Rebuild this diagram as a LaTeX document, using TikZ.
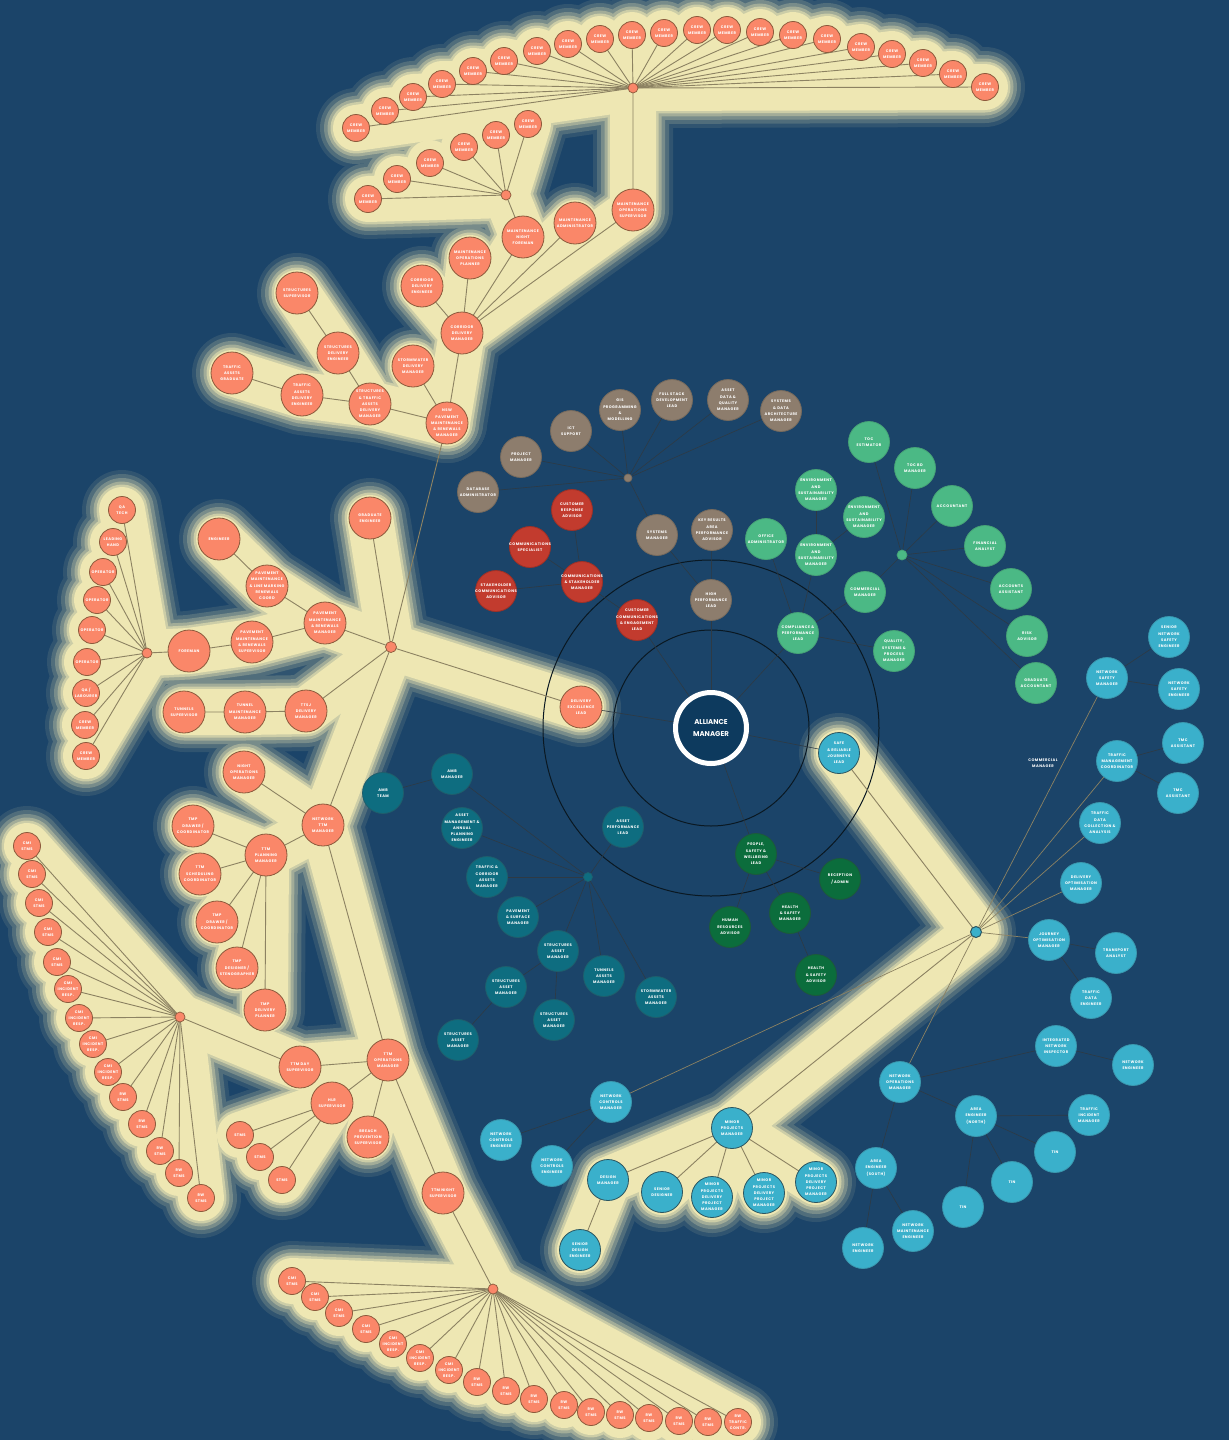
\documentclass[tikz,border=0pt]{standalone}
\usepackage{fontspec}
\usepackage{tikz}
\newfontfamily\lblfont[LetterSpace=12]{Poppins}
\newfontfamily\headfont{Poppins}
\newcommand\lbl{\lblfont\bfseries\fontsize{3.7}{6.3}\selectfont}
\definecolor{Sea}{HTML}{1B4469}
\definecolor{Cream}{HTML}{EEE7B3}
\definecolor{Coral}{HTML}{FA8769}
\definecolor{CoralRim}{HTML}{8C5A3C}
\definecolor{Taupe}{HTML}{8D7D6D}
\definecolor{TaupeRim}{HTML}{766A5D}
\definecolor{Brick}{HTML}{C23B2E}
\definecolor{BrickRim}{HTML}{9E3026}
\definecolor{Mint}{HTML}{4BB985}
\definecolor{MintRim}{HTML}{46A276}
\definecolor{Forest}{HTML}{0B6D3C}
\definecolor{ForestRim}{HTML}{1C5A3A}
\definecolor{Teal}{HTML}{0E6D80}
\definecolor{TealRim}{HTML}{1F5E6C}
\definecolor{Sky}{HTML}{3AB0CB}
\definecolor{SkyRim}{HTML}{3A98AE}
\definecolor{DeepRim}{HTML}{2B5560}
\definecolor{Navy}{HTML}{0D3A5E}
\definecolor{Olive}{HTML}{8C8262}
\definecolor{Wire}{HTML}{2E3A44}
\definecolor{Ring}{HTML}{0A1822}
\colorlet{GlowA}{Cream!10!Sea}
\colorlet{GlowB}{Cream!25!Sea}
\colorlet{GlowC}{Cream!44!Sea}
\colorlet{GlowD}{Cream!64!Sea}
\colorlet{GlowE}{Cream!84!Sea}
\pgfdeclarelayer{glow}
\pgfdeclarelayer{wires}
\pgfsetlayers{glow,wires,main}
\newcommand\treelinks[1]{%
  \draw[#1] (del.center) -- (h3.center) -- (ge.center);
  \draw[#1] (h3.center) -- (pmrm.center) -- (pmlm.center) -- (eng.center);
  \draw[#1] (pmrm.center) -- (pmrs.center) -- (fore.center) -- (h4.center);
  \draw[#1] (h3.center) -- (ttsj.center) -- (tmm.center) -- (tsup.center);
  \draw[#1] (h3.center) -- (nttm.center) -- (nom.center);
  \draw[#1] (nttm.center) -- (tpm.center);
  \draw[#1] (nttm.center) -- (tom.center) -- (tds.center) -- (h5.center);
  \draw[#1] (tom.center) -- (hlr.center);
  \draw[#1] (tom.center) -- (bps.center);
  \draw[#1] (tom.center) -- (tns.center) -- (h6.center);
  \draw[#1] (nsw.center) -- (cdm.center) -- (cde.center);
  \draw[#1] (nsw.center) -- (swdm.center);
  \draw[#1] (nsw.center) -- (stadm.center) -- (sde.center) -- (ssup.center);
  \draw[#1] (stadm.center) -- (tade.center) -- (tag.center);
  \draw[#1] (cdm.center) -- (mop.center);
  \draw[#1] (cdm.center) -- (mnf.center) -- (h2.center);
  \draw[#1] (cdm.center) -- (madm.center);
  \draw[#1] (cdm.center) -- (mos.center) -- (h1.center);
  \foreach \i in {1,...,21} \draw[#1] (h1.center) -- (tc\i.center);
  \foreach \i in {1,...,6} \draw[#1] (h2.center) -- (nc\i.center);
  \foreach \i in {1,...,9} \draw[#1] (h4.center) -- (lh\i.center);
  \foreach \i in {1,...,5} \draw[#1] (tpm.center) -- (tp\i.center);
  \foreach \i in {1,...,14} \draw[#1] (h5.center) -- (cs\i.center);
  \foreach \i in {1,...,3} \draw[#1] (hlr.center) -- (st\i.center);
  \foreach \i in {1,...,17} \draw[#1] (h6.center) -- (bs\i.center);
  \draw[#1] (srjl.center) -- (h10.center) -- (mpm.center);
  \foreach \n in {dm,sd,mp1,mp2,mp3} \draw[#1] (mpm.center) -- (\n.center);
  \draw[#1] (dm.center) -- (sde2.center);
}

\begin{document}
\begin{tikzpicture}[x=1pt,y=-1pt,
  txt/.style={text=white,align=center,font=\lbl,inner sep=0pt},
  unit/.style={circle,inner sep=0pt,minimum size=41pt,line width=0.8pt,label={[txt]center:#1}},
  coralnode/.style={unit={#1},fill=Coral,draw=CoralRim,minimum size=42pt},
  coralsmall/.style={coralnode={#1},minimum size=27pt},
  taupenode/.style={unit={#1},fill=Taupe,draw=TaupeRim},
  bricknode/.style={unit={#1},fill=Brick,draw=BrickRim},
  mintnode/.style={unit={#1},fill=Mint,draw=MintRim},
  forestnode/.style={unit={#1},fill=Forest,draw=ForestRim},
  tealnode/.style={unit={#1},fill=Teal,draw=TealRim},
  skynode/.style={unit={#1},fill=Sky,draw=SkyRim},
  hub/.style={circle,inner sep=0pt,minimum size=10pt,line width=0.7pt},
  wire/.style={draw=Olive,line width=0.9pt},
  link/.style={draw=Wire,line width=0.6pt},
  ring/.style={draw=Ring,line width=1pt}
]
\useasboundingbox (0,0) rectangle (1229,1440);

\node[circle,fill=Navy,draw=white,line width=5pt,minimum size=71pt,text=white,align=center,
  font=\headfont\bfseries\fontsize{7}{12}\selectfont] (am) at (711,728) {ALLIANCE\\MANAGER};

\node[hub,fill=Coral,draw=CoralRim] (h1) at (633,88) {};
\node[hub,fill=Coral,draw=CoralRim] (h2) at (506,195) {};
\node[hub,fill=Coral,draw=CoralRim,minimum size=11pt] (h3) at (391,647) {};
\node[hub,fill=Coral,draw=CoralRim] (h4) at (147,653) {};
\node[hub,fill=Coral,draw=CoralRim] (h5) at (180,1017) {};
\node[hub,fill=Coral,draw=CoralRim] (h6) at (493,1289) {};
\node[hub,fill=Taupe,draw=TaupeRim,minimum size=8pt] (h7) at (628,478) {};
\node[hub,fill=Mint,draw=MintRim] (h8) at (902,555) {};
\node[hub,fill=Teal,draw=TealRim,minimum size=9pt] (h9) at (588,877) {};
\node[hub,fill=Sky,draw=DeepRim,line width=1pt,minimum size=11pt] (h10) at (976,932) {};

\foreach \x/\y [count=\i] in {356/128,385/111,413/97,442/84,473/71,504/61,537/51,568/44,600/39,632/35,664/33,697/30,727/30,760/32,793/35,827/39,861/47,892/54,923/63,953/74,985/87}
  \node[coralsmall={CREW\\MEMBER}] (tc\i) at (\x,\y) {};
\foreach \x/\y [count=\i] in {528/124,496/135,464/147,430/163,397/179,368/199}
  \node[coralsmall={CREW\\MEMBER}] (nc\i) at (\x,\y) {};

\node[coralnode={MAINTENANCE\\OPERATIONS\\SUPERVISOR}] (mos) at (633,210) {};
\node[coralnode={MAINTENANCE\\ADMINISTRATOR}] (madm) at (575,223) {};
\node[coralnode={MAINTENANCE\\NIGHT\\FOREMAN}] (mnf) at (523,237) {};
\node[coralnode={MAINTENANCE\\OPERATIONS\\PLANNER}] (mop) at (470,258) {};
\node[coralnode={CORRIDOR\\DELIVERY\\ENGINEER}] (cde) at (422,286) {};
\node[coralnode={CORRIDOR\\DELIVERY\\MANAGER}] (cdm) at (462,333) {};
\node[coralnode={STORMWATER\\DELIVERY\\MANAGER}] (swdm) at (413,366) {};
\node[coralnode={STRUCTURES\\SUPERVISOR}] (ssup) at (297,293) {};
\node[coralnode={STRUCTURES\\DELIVERY\\ENGINEER}] (sde) at (338,353) {};
\node[coralnode={TRAFFIC\\ASSETS\\GRADUATE}] (tag) at (232,373) {};
\node[coralnode={TRAFFIC\\ASSETS\\DELIVERY\\ENGINEER}] (tade) at (302,395) {};
\node[coralnode={STRUCTURES\\\& TRAFFIC\\ASSETS\\DELIVERY\\MANAGER}] (stadm) at (370,404) {};
\node[coralnode={NSW\\PAVEMENT\\MAINTENANCE\\\& RENEWALS\\MANAGER}] (nsw) at (447,423) {};

\node[coralnode={GRADUATE\\ENGINEER}] (ge) at (370,518) {};
\node[coralnode={ENGINEER}] (eng) at (219,539) {};
\node[coralnode={PAVEMENT\\MAINTENANCE\\\& LINE MARKING\\RENEWALS\\COORD}] (pmlm) at (267,586) {};
\node[coralnode={PAVEMENT\\MAINTENANCE\\\& RENEWALS\\MANAGER}] (pmrm) at (325,623) {};
\node[coralnode={PAVEMENT\\MAINTENANCE\\\& RENEWALS\\SUPERVISOR}] (pmrs) at (252,642) {};
\node[coralnode={FOREMAN}] (fore) at (189,651) {};
\node[coralsmall={QA\\TECH}] (lh1) at (122,510) {};
\node[coralsmall={LEADING\\HAND}] (lh2) at (113,542) {};
\foreach \x/\y [count=\i from 3] in {103/572,97/600,92/630,87/662}
  \node[coralsmall={OPERATOR}] (lh\i) at (\x,\y) {};
\node[coralsmall={QA /\\LABOURER}] (lh7) at (86,693) {};
\node[coralsmall={CREW\\MEMBER}] (lh8) at (85,725) {};
\node[coralsmall={CREW\\MEMBER}] (lh9) at (86,756) {};
\node[coralnode={TUNNELS\\SUPERVISOR}] (tsup) at (184,712) {};
\node[coralnode={TUNNEL\\MAINTENANCE\\MANAGER}] (tmm) at (245,712) {};
\node[coralnode={TTSJ\\DELIVERY\\MANAGER}] (ttsj) at (306,711) {};
\node[coralnode={DELIVERY\\EXCELLENCE\\LEAD}] (del) at (581,707) {};

\node[coralnode={NIGHT\\OPERATIONS\\MANAGER}] (nom) at (244,772) {};
\node[coralnode={NETWORK\\TTM\\MANAGER}] (nttm) at (323,825) {};
\node[coralnode={TTM\\PLANNING\\MANAGER}] (tpm) at (266,855) {};
\node[coralnode={TMP\\DRAWER /\\COORDINATOR}] (tp1) at (193,826) {};
\node[coralnode={TTM\\SCHEDULING\\COORDINATOR}] (tp2) at (200,874) {};
\node[coralnode={TMP\\DRAWER /\\COORDINATOR}] (tp3) at (217,922) {};
\node[coralnode={TMP\\DESIGNER /\\STENOGRAPHER}] (tp4) at (237,968) {};
\node[coralnode={TMP\\DELIVERY\\PLANNER}] (tp5) at (265,1010) {};
\node[coralnode={TTM\\OPERATIONS\\MANAGER}] (tom) at (388,1060) {};
\node[coralnode={TTM DAY\\SUPERVISOR}] (tds) at (300,1067) {};
\node[coralnode={HLR\\SUPERVISOR}] (hlr) at (332,1103) {};
\node[coralnode={BREACH\\PREVENTION\\SUPERVISOR}] (bps) at (368,1137) {};
\node[coralnode={TTM NIGHT\\SUPERVISOR}] (tns) at (443,1193) {};
\foreach \x/\y [count=\i] in {240/1135,260/1157,282/1180}
  \node[coralsmall={STMS}] (st\i) at (\x,\y) {};

\foreach \x/\y [count=\i] in {27/846,32/874,39/903,48/932,57/962}
  \node[coralsmall={CMI\\STMS}] (cs\i) at (\x,\y) {};
\foreach \x/\y [count=\i from 6] in {68/989,79/1018,93/1044,108/1072}
  \node[coralsmall={CMI\\INCIDENT\\RESP.}] (cs\i) at (\x,\y) {};
\foreach \x/\y [count=\i from 10] in {123/1097,142/1124,160/1151,179/1173,201/1198}
  \node[coralsmall={RW\\STMS}] (cs\i) at (\x,\y) {};

\foreach \x/\y [count=\i] in {292/1281,315/1297,339/1313,366/1329}
  \node[coralsmall={CMI\\STMS}] (bs\i) at (\x,\y) {};
\foreach \x/\y [count=\i from 5] in {393/1344,420/1358,449/1370}
  \node[coralsmall={CMI\\INCIDENT\\RESP.}] (bs\i) at (\x,\y) {};
\foreach \x/\y [count=\i from 8] in {477/1382,506/1391,534/1399,564/1405,591/1412,620/1415,649/1418,679/1421,708/1422}
  \node[coralsmall={RW\\STMS}] (bs\i) at (\x,\y) {};
\node[coralsmall={RW\\TRAFFIC\\CONTR.}] (bs17) at (738,1422) {};

\node[taupenode={DATABASE\\ADMINISTRATOR}] (dba) at (478,492) {};
\node[taupenode={PROJECT\\MANAGER}] (pm) at (521,457) {};
\node[taupenode={ICT\\SUPPORT}] (ict) at (571,431) {};
\node[taupenode={GIS\\PROGRAMMING\\\&\\MODELLING}] (gis) at (620,410) {};
\node[taupenode={FULL STACK\\DEVELOPMENT\\LEAD}] (fsd) at (672,400) {};
\node[taupenode={ASSET\\DATA \&\\QUALITY\\MANAGER}] (adq) at (728,400) {};
\node[taupenode={SYSTEMS\\\& DATA\\ARCHITECTURE\\MANAGER}] (sda) at (781,411) {};
\node[taupenode={SYSTEMS\\MANAGER}] (sm) at (657,535) {};
\node[taupenode={KEY RESULTS\\AREA\\PERFORMANCE\\ADVISOR}] (kra) at (712,530) {};
\node[taupenode={HIGH\\PERFORMANCE\\LEAD}] (hpl) at (711,600) {};

\node[bricknode={CUSTOMER\\RESPONSE\\ADVISOR}] (cra) at (572,510) {};
\node[bricknode={COMMUNICATIONS\\SPECIALIST}] (csp) at (530,547) {};
\node[bricknode={COMMUNICATIONS\\\& STAKEHOLDER\\MANAGER}] (csm) at (582,582) {};
\node[bricknode={STAKEHOLDER\\COMMUNICATIONS\\ADVISOR}] (sca) at (496,591) {};
\node[bricknode={CUSTOMER\\COMMUNICATIONS\\\& ENGAGEMENT\\LEAD}] (ccel) at (637,620) {};

\node[mintnode={TOC\\ESTIMATOR}] (toce) at (869,442) {};
\node[mintnode={TOC BD\\MANAGER}] (tocbd) at (915,468) {};
\node[mintnode={ACCOUNTANT}] (acc) at (952,506) {};
\node[mintnode={FINANCIAL\\ANALYST}] (fa) at (985,546) {};
\node[mintnode={ACCOUNTS\\ASSISTANT}] (aa) at (1011,589) {};
\node[mintnode={RISK\\ADVISOR}] (ra) at (1027,636) {};
\node[mintnode={GRADUATE\\ACCOUNTANT}] (ga) at (1036,683) {};
\node[mintnode={COMMERCIAL\\MANAGER}] (cm) at (865,592) {};
\node[mintnode={ENVIRONMENT\\AND\\SUSTAINABILITY\\MANAGER}] (esm1) at (816,490) {};
\node[mintnode={ENVIRONMENT\\AND\\SUSTAINABILITY\\MANAGER}] (esm2) at (864,517) {};
\node[mintnode={ENVIRONMENT\\AND\\SUSTAINABILITY\\MANAGER}] (esm3) at (816,555) {};
\node[mintnode={OFFICE\\ADMINISTRATOR}] (oa) at (766,539) {};
\node[mintnode={COMPLIANCE \&\\PERFORMANCE\\LEAD}] (cpl) at (798,633) {};
\node[mintnode={QUALITY,\\SYSTEMS \&\\PROCESS\\MANAGER}] (qsp) at (894,651) {};

\node[forestnode={PEOPLE,\\SAFETY \&\\WELLBEING\\LEAD}] (pswl) at (756,854) {};
\node[forestnode={HUMAN\\RESOURCES\\ADVISOR}] (hra) at (730,927) {};
\node[forestnode={HEALTH\\\& SAFETY\\MANAGER}] (hsm) at (790,913) {};
\node[forestnode={HEALTH\\\& SAFETY\\ADVISOR}] (hsa) at (816,975) {};
\node[forestnode={RECEPTION\\/ ADMIN}] (rec) at (840,879) {};

\node[tealnode={AMB\\MANAGER}] (amb) at (452,774) {};
\node[tealnode={AMB\\TEAM}] (ambt) at (383,793) {};
\node[tealnode={ASSET\\MANAGEMENT \&\\ANNUAL\\PLANNING\\ENGINEER}] (amap) at (462,828) {};
\node[tealnode={TRAFFIC \&\\CORRIDOR\\ASSETS\\MANAGER}] (tca) at (487,877) {};
\node[tealnode={PAVEMENT\\\& SURFACE\\MANAGER}] (psm) at (518,917) {};
\foreach \x/\y [count=\i] in {558/951,506/987,554/1020,458/1040}
  \node[tealnode={STRUCTURES\\ASSET\\MANAGER}] (sam\i) at (\x,\y) {};
\node[tealnode={TUNNELS\\ASSETS\\MANAGER}] (tam) at (604,976) {};
\node[tealnode={STORMWATER\\ASSETS\\MANAGER}] (swam) at (656,997) {};
\node[tealnode={ASSET\\PERFORMANCE\\LEAD}] (apl) at (623,827) {};

\node[skynode={SAFE\\\& RELIABLE\\JOURNEYS\\LEAD},draw=DeepRim] (srjl) at (839,753) {};
\node[skynode={NETWORK\\SAFETY\\MANAGER}] (nsm) at (1107,678) {};
\node[skynode={SENIOR\\NETWORK\\SAFETY\\ENGINEER}] (snse) at (1169,637) {};
\node[skynode={NETWORK\\SAFETY\\ENGINEER}] (nse) at (1179,689) {};
\node[skynode={TRAFFIC\\MANAGEMENT\\COORDINATOR}] (tmc) at (1117,761) {};
\node[skynode={TMC\\ASSISTANT}] (tmca) at (1183,743) {};
\node[skynode={TMC\\ASSISTANT}] (tmcb) at (1178,793) {};
\node[skynode={TRAFFIC\\DATA\\COLLECTION \&\\ANALYSIS}] (tdca) at (1100,823) {};
\node[skynode={DELIVERY\\OPTIMISATION\\MANAGER}] (dom) at (1081,883) {};
\node[skynode={JOURNEY\\OPTIMISATION\\MANAGER}] (jom) at (1049,940) {};
\node[skynode={TRANSPORT\\ANALYST}] (ta) at (1116,953) {};
\node[skynode={TRAFFIC\\DATA\\ENGINEER}] (tde) at (1091,998) {};
\node[skynode={NETWORK\\OPERATIONS\\MANAGER}] (netom) at (900,1082) {};
\node[skynode={INTEGRATED\\NETWORK\\INSPECTOR}] (ini) at (1056,1046) {};
\node[skynode={NETWORK\\ENGINEER}] (ne1) at (1133,1065) {};
\node[skynode={AREA\\ENGINEER\\(NORTH)}] (aen) at (976,1116) {};
\node[skynode={AREA\\ENGINEER\\(SOUTH)}] (aes) at (876,1168) {};
\node[skynode={TRAFFIC\\INCIDENT\\MANAGER}] (tim) at (1089,1115) {};
\foreach \x/\y [count=\i] in {1055/1152,1012/1182,963/1207}
  \node[skynode={TIN}] (tin\i) at (\x,\y) {};
\node[skynode={NETWORK\\ENGINEER}] (ne2) at (863,1248) {};
\node[skynode={NETWORK\\MAINTENANCE\\ENGINEER}] (nme) at (913,1231) {};
\node[skynode={NETWORK\\CONTROLS\\MANAGER}] (ncm) at (611,1102) {};
\node[skynode={NETWORK\\CONTROLS\\ENGINEER}] (nce1) at (501,1140) {};
\node[skynode={NETWORK\\CONTROLS\\ENGINEER}] (nce2) at (552,1166) {};
\node[skynode={MINOR\\PROJECTS\\MANAGER},draw=DeepRim] (mpm) at (732,1128) {};
\node[skynode={DESIGN\\MANAGER},draw=DeepRim] (dm) at (608,1180) {};
\node[skynode={SENIOR\\DESIGNER},draw=DeepRim] (sd) at (662,1192) {};
\foreach \x/\y [count=\i] in {712/1197,764/1193,816/1182}
  \node[skynode={MINOR\\PROJECTS\\DELIVERY\\PROJECT\\MANAGER},draw=DeepRim] (mp\i) at (\x,\y) {};
\node[skynode={SENIOR\\DESIGN\\ENGINEER},draw=DeepRim] (sde2) at (580,1250) {};
\node[txt] (cmtag) at (1043,763) {COMMERCIAL\\MANAGER};

\begin{pgfonlayer}{glow}
\fill[Sea] (0,0) rectangle (1229,1440);
\foreach \w/\c in {80/GlowA,72/GlowB,64/GlowC,57/GlowD,51/GlowE,46/Cream}
  {\treelinks{line width=\w pt,draw=\c,line cap=round,line join=round}}
\end{pgfonlayer}

\begin{pgfonlayer}{wires}
\draw[ring] (am.center) circle[radius=98pt];
\draw[ring] (am.center) circle[radius=168pt];
\treelinks{wire}
\draw[wire] (h3) -- (nsw);
\foreach \n in {del,ccel,hpl,cpl,srjl,pswl} \draw[link] (am) -- (\n);
\foreach \n in {dba,pm,ict,gis,fsd,adq,sda,sm} \draw[link] (h7) -- (\n);
\draw[link] (sm) -- (hpl);
\draw[link] (kra) -- (hpl);
\foreach \n in {cra,csp,sca,ccel} \draw[link] (csm) -- (\n);
\foreach \n in {toce,tocbd,acc,fa,aa,ra,ga,cm} \draw[link] (h8) -- (\n);
\draw[link] (cm) -- (cpl);
\draw[link] (esm1) -- (esm3);
\draw[link] (esm2) -- (esm3);
\foreach \n in {esm3,oa,qsp} \draw[link] (cpl) -- (\n);
\foreach \n in {hra,hsm,rec} \draw[link] (pswl) -- (\n);
\draw[link] (hsm) -- (hsa);
\foreach \n in {amb,amap,tca,psm,sam1,tam,swam,apl} \draw[link] (h9) -- (\n);
\draw[link] (amb) -- (ambt);
\draw[link] (sam1) -- (sam2);
\draw[link] (sam1) -- (sam3);
\draw[link] (sam2) -- (sam4);
\foreach \n in {nsm,tmc,tdca,dom,jom,netom,ncm} \draw[wire,line width=0.7pt] (h10) -- (\n);
\draw[link] (nsm) -- (snse);
\draw[link] (nsm) -- (nse);
\draw[link] (tmc) -- (tmca);
\draw[link] (tmc) -- (tmcb);
\draw[link] (jom) -- (ta);
\draw[link] (jom) -- (tde);
\foreach \n in {ini,aen,aes} \draw[link] (netom) -- (\n);
\draw[link] (ini) -- (ne1);
\foreach \n in {tim,tin1,tin2,tin3} \draw[link] (aen) -- (\n);
\draw[link] (aes) -- (ne2);
\draw[link] (aes) -- (nme);
\draw[link] (ncm) -- (nce1);
\draw[link] (ncm) -- (nce2);
\end{pgfonlayer}
\end{tikzpicture}
\end{document}
